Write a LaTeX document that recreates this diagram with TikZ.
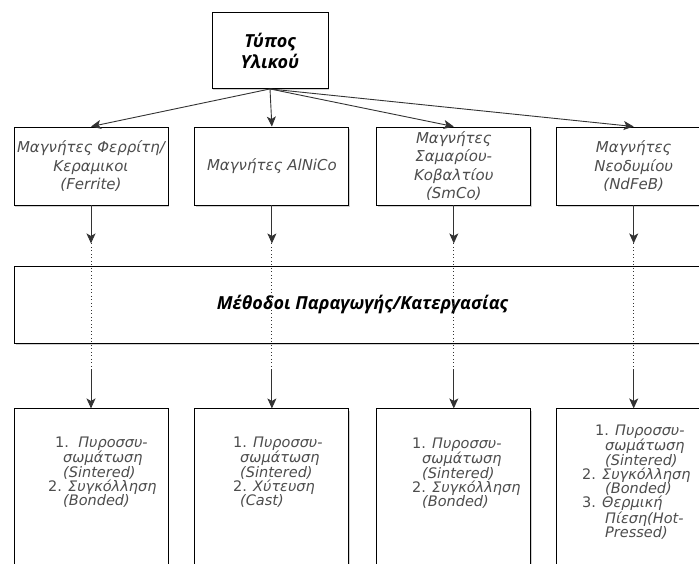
\documentclass[tikz,border=0pt]{standalone}
\usepackage{fontspec}
\setmainfont{DejaVu Sans}
\newfontfamily\headfont{Open Sans}
\usepackage{xcolor}
\usetikzlibrary{positioning, arrows.meta, shadows}

\definecolor{txtgray}{HTML}{4D4D4D}
\definecolor{linegray}{HTML}{333333}
\newcommand{\nr}[1]{\textup{#1}}

\begin{document}
\begin{tikzpicture}[
        x=1pt, y=-1pt,
        % spacing between the magnet boxes
        node distance=26pt,
        box/.style={draw=black, line width=0.9pt, fill=white,
                    drop shadow={shadow xshift=1.2pt, shadow yshift=-2pt,
                                 fill=black!45, opacity=0.4}},
        head/.style={box, align=center, text=black,
                     font=\headfont\bfseries\itshape\fontsize{18}{21}\selectfont},
        magnet/.style={box, align=center, text=txtgray, inner sep=0pt,
                       minimum width=154pt, minimum height=78pt,
                       font=\itshape\fontsize{15}{18.4}\selectfont},
        process/.style={box, minimum width=154pt, minimum height=175pt},
        list/.style={align=left, text=txtgray, inner sep=0pt,
                     font=\itshape\fontsize{14.5}{14.2}\selectfont},
        arrow/.style={-{Stealth[length=10pt, width=9pt, inset=2.5pt]},
                      line width=0.9pt, draw=linegray},
        link/.style={line width=0.9pt, draw=linegray, dash pattern=on 1pt off 2.5pt}
    ]
    \useasboundingbox (0,0) rectangle (699,564);

    % --- Material type ---
    \node[head, minimum width=116pt, minimum height=76pt] (type) at (270,50.5) {Τύπος\\Υλικού};

    % --- Magnet families ---
    \node[magnet] (f1) at (91,166) {Μαγνήτες Φερρίτη/\\Κεραμικοι\\(Ferrite)};
    \node[magnet, right=of f1] (f2) {Μαγνήτες AlNiCo};
    \node[magnet, right=27pt of f2] (f3) {Μαγνήτες\\Σαμαρίου-\\Κοβαλτίου\\(SmCo)};
    \node[magnet, right=25pt of f3] (f4) {Μαγνήτες\\Νεοδυμίου\\(NdFeB)};

    % --- Production methods ---
    \node[head, anchor=north west, minimum width=696pt, minimum height=77pt] (method) at (14,266)
        {Μέθοδοι Παραγωγής/Κατεργασίας};

    % --- Process boxes ---
    \node[process, below=203pt of f1] (p1) {};
    \node[process, below=203pt of f2] (p2) {};
    \node[process, below=203pt of f3] (p3) {};
    \node[process, below=203pt of f4] (p4) {};

    \node[list, anchor=west] (s1) at (48,472)
        {\hspace*{7pt}\nr{1.}\ \ Πυροσσυ-\\\hspace*{15pt}σωμάτωση\\\hspace*{15pt}(Sintered)\\
         \nr{2.} Συγκόλληση\\\hspace*{15pt}(Bonded)};
    \node[list, anchor=west] (s2) at (233,472)
        {\nr{1.} Πυροσσυ-\\\hspace*{7pt}σωμάτωση\\\hspace*{7pt}(Sintered)\\
         \nr{2.} Χύτευση\\\hspace*{7pt}(Cast)};
    \node[list, anchor=west] (s3) at (412,473)
        {\nr{1.} Πυροσσυ-\\\hspace*{10pt}σωμάτωση\\\hspace*{10pt}(Sintered)\\
         \nr{2.} Συγκόλληση\\\hspace*{10pt}(Bonded)};
    \node[list, anchor=west] (s4) at (582,482)
        {\hspace*{13pt}\nr{1.} Πυροσσυ-\\\hspace*{23pt}σωμάτωση\\\hspace*{23pt}(Sintered)\\
         \nr{2.} Συγκόλληση\\\hspace*{23pt}(Bonded)\\
         \nr{3.} Θερμική\\\hspace*{23pt}Πίεση(Hot-\\\hspace*{23pt}Pressed)};

    % --- Connector ends around the method box ---
    \coordinate[below=38pt of f1] (t1);
    \coordinate[below=38pt of f2] (t2);
    \coordinate[below=38pt of f3] (t3);
    \coordinate[below=38pt of f4] (t4);
    \coordinate[above=39pt of p1] (b1);
    \coordinate[above=39pt of p2] (b2);
    \coordinate[above=39pt of p3] (b3);
    \coordinate[above=39pt of p4] (b4);

    % --- Arrows ---
    \draw[arrow] (type.south) -- (f1.north);
    \draw[arrow] (type.south) -- (f2.north);
    \draw[arrow] (type.south) -- (f3.north);
    \draw[arrow] (type.south) -- (f4.north);

    \draw[arrow] (f1) -- (t1);
    \draw[arrow] (f2) -- (t2);
    \draw[arrow] (f3) -- (t3);
    \draw[arrow] (f4) -- (t4);

    % dotted pass through the method box
    \draw[link] (t1) -- (b1);
    \draw[link] (t2) -- (b2);
    \draw[link] (t3) -- (b3);
    \draw[link] (t4) -- (b4);

    \draw[arrow] (b1) -- (p1);
    \draw[arrow] (b2) -- (p2);
    \draw[arrow] (b3) -- (p3);
    \draw[arrow] (b4) -- (p4);

\end{tikzpicture}
\end{document}
